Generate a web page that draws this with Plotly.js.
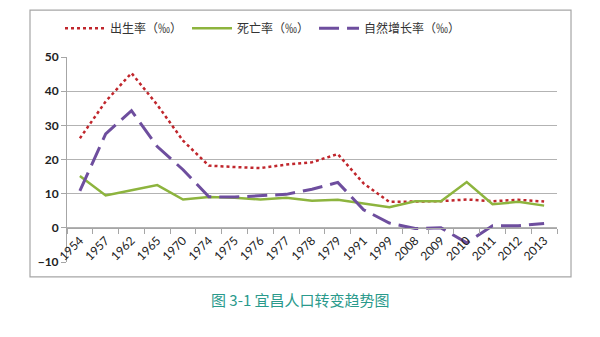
<!DOCTYPE html>
<html><head><meta charset="utf-8">
<script src="https://cdn.plot.ly/plotly-3.0.1.min.js"></script>
<style>html,body{margin:0;padding:0;background:#fff}#chart{width:600px;height:337px}</style>
</head><body><div id="chart"></div>
<script>
const years = ["1954","1957","1962","1965","1970","1974","1975","1976","1977","1978","1979","1991","1999","2008","2009","2010","2011","2012","2013"];
const birthRate = [26.2,37,45.3,36,25.5,18.2,17.8,17.5,18.5,19.2,21.6,13,7.6,7.8,7.8,8.3,7.8,8.2,7.7];
const deathRate = [15.2,9.5,11,12.5,8.3,9.0,8.8,8.3,8.8,7.9,8.2,7.2,6.0,7.8,7.8,13.4,6.9,7.6,6.5];
const growthRate = [10.8,27.5,34.3,23.8,17,9.1,9.0,9.3,9.8,11.3,13.3,5.3,1.4,-0.2,0,-4.4,0.6,0.6,1.3];
const seriesNames = ["出生率（‰）","死亡率（‰）","自然增长率（‰）"];
const yTicks = [-10,0,10,20,30,40,50];
const caption = "图 3-1 宜昌人口转变趋势图";

const traces = [
  {x: years, y: birthRate, name: seriesNames[0], type: "scatter", mode: "lines",
   line: {color: "#C0262C", width: 2.5, dash: "dot"}},
  {x: years, y: deathRate, name: seriesNames[1], type: "scatter", mode: "lines",
   line: {color: "#8DB43E", width: 2.5}},
  {x: years, y: growthRate, name: seriesNames[2], type: "scatter", mode: "lines",
   line: {color: "#6E4E9E", width: 3, dash: "20px,8px"}}
];

const layout = {
  width: 600, height: 337,
  margin: {l: 67, r: 43, t: 57, b: 75},
  paper_bgcolor: "#fff", plot_bgcolor: "#fff",
  showlegend: true,
  legend: {orientation: "h", x: 0.40, xanchor: "center", y: 1.14, yanchor: "middle",
    font: {family: "Noto Sans CJK SC, sans-serif", size: 12, color: "#333"},
    itemwidth: 40, tracegroupgap: 0, bgcolor: "rgba(0,0,0,0)"},
  xaxis: {type: "category", anchor: "free", position: 10/60,
    showline: true, linecolor: "#a6a6a6", linewidth: 1,
    ticks: "outside", ticklen: 5, tickcolor: "#a6a6a6", tickson: "boundaries",
    tickangle: -45, showgrid: false, zeroline: false,
    tickfont: {family: "Lato, Open Sans, sans-serif", size: 12, color: "#222"},
    range: [-0.5, 18.5], fixedrange: true},
  yaxis: {range: [-10, 50], tickvals: yTicks, showgrid: true, gridcolor: "#b3b3b3", gridwidth: 1,
    zeroline: false, showline: true, linecolor: "#a6a6a6", ticks: "outside", ticklen: 5,
    tickcolor: "#a6a6a6",
    tickfont: {family: "Lato, Open Sans, sans-serif", size: 12, color: "#222", weight: "bold"}},
  shapes: [
    {type: "rect", xref: "paper", yref: "paper", x0: -0.0755, x1: 1.0286, y0: -0.073, y1: 1.229,
     line: {color: "#a6a6a6", width: 1.2}, fillcolor: "rgba(0,0,0,0)", layer: "below"}
  ],
  annotations: [
    {text: caption, xref: "paper", yref: "paper", x: (300-67)/490, y: -0.185, showarrow: false,
     xanchor: "center", yanchor: "middle",
     font: {family: "Noto Sans CJK SC, sans-serif", size: 15, color: "#2A9A8C"}}
  ]
};
Plotly.newPlot("chart", traces, layout, {staticPlot: true, displayModeBar: false});
</script></body></html>
